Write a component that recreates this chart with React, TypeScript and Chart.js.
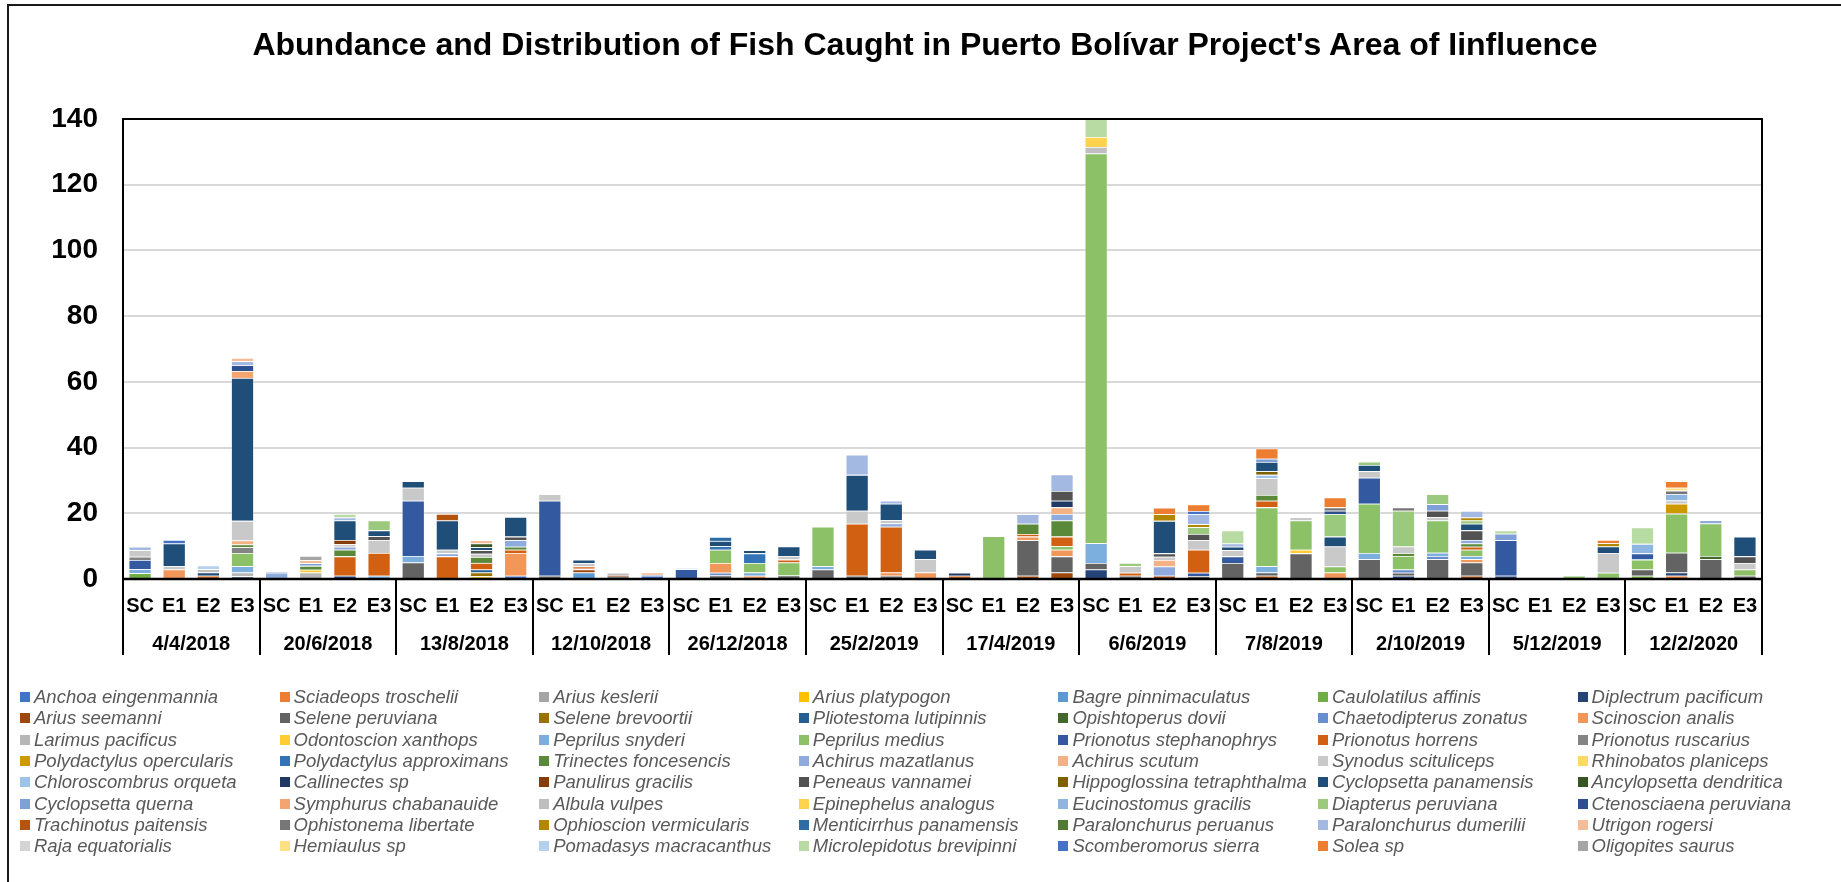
import React, { useEffect, useRef } from 'react';
import { Chart, registerables } from 'chart.js';

Chart.register(...registerables);

const FONT = "'Liberation Sans', Arial, Helvetica, sans-serif";

// ---------- data ----------
const dates = ['4/4/2018', '20/6/2018', '13/8/2018', '12/10/2018', '26/12/2018', '25/2/2019', '17/4/2019', '6/6/2019', '7/8/2019', '2/10/2019', '5/12/2019', '12/2/2020'];
const stations = ['SC', 'E1', 'E2', 'E3'];
const yMin = 0;
const yMax = 140;
const yStep = 20;

const species = [
  'Anchoa eingenmannia', 'Sciadeops troschelii', 'Arius keslerii', 'Arius platypogon', 'Bagre pinnimaculatus', 'Caulolatilus affinis', 'Diplectrum pacificum',
  'Arius seemanni', 'Selene peruviana', 'Selene brevoortii', 'Pliotestoma lutipinnis', 'Opishtoperus dovii', 'Chaetodipterus zonatus', 'Scinoscion analis',
  'Larimus pacificus', 'Odontoscion xanthops', 'Peprilus snyderi', 'Peprilus medius', 'Prionotus stephanophrys', 'Prionotus horrens', 'Prionotus ruscarius',
  'Polydactylus opercularis', 'Polydactylus approximans', 'Trinectes foncesencis', 'Achirus mazatlanus', 'Achirus scutum', 'Synodus scituliceps', 'Rhinobatos planiceps',
  'Chloroscombrus orqueta', 'Callinectes sp', 'Panulirus gracilis', 'Peneaus vannamei', 'Hippoglossina tetraphthalma', 'Cyclopsetta panamensis', 'Ancylopsetta dendritica',
  'Cyclopsetta querna', 'Symphurus chabanauide', 'Albula vulpes', 'Epinephelus analogus', 'Eucinostomus gracilis', 'Diapterus peruviana', 'Ctenosciaena peruviana',
  'Trachinotus paitensis', 'Ophistonema libertate', 'Ophioscion vermicularis', 'Menticirrhus panamensis', 'Paralonchurus peruanus', 'Paralonchurus dumerilii', 'Utrigon rogersi',
  'Raja equatorialis', 'Hemiaulus sp', 'Pomadasys macracanthus', 'Microlepidotus brevipinni', 'Scomberomorus sierra', 'Solea sp', 'Oligopites saurus',
];

const speciesColors = [
  '#4472C4', '#ED7D31', '#A5A5A5', '#FFC000', '#5B9BD5', '#70AD47', '#264478',
  '#9E480E', '#636363', '#997300', '#255E91', '#43682B', '#698ED0', '#F1975A',
  '#B7B7B7', '#FFCD33', '#7CAFDD', '#8CC168', '#335AA1', '#D26012', '#848484',
  '#CC9A00', '#3274B5', '#5A8A39', '#8FAADC', '#F4B183', '#C9C9C9', '#FFD966',
  '#9DC3E6', '#203864', '#843C0C', '#525252', '#7F6000', '#1F4E79', '#375623',
  '#7F9FD7', '#F4A46F', '#BFBFBF', '#FFD34E', '#8EB6E0', '#9BC97D', '#2E4F8E',
  '#B4540F', '#767676', '#B38600', '#2E6DA4', '#4E7A31', '#A4B9E2', '#F5BC97',
  '#D4D4D4', '#FFE083', '#B4D0EC', '#B8DAA3', '#4472C4', '#ED7D31', '#A5A5A5',
];

// values per species: 12 sampling dates x 4 stations (SC, E1, E2, E3)
const _ = [0, 0, 0, 0];
const anchoaEingenmannia = [_, _, [0, 0, 0, 1], [0, 0, 0, 1], _, _, _, _, _, _, _, _];
const sciadeopsTroschelii = [_, _, _, _, _, _, _, _, _, _, _, [0, 1, 0, 0]];
const ariusKeslerii = [_, _, _, _, _, _, _, _, _, _, _, _];
const ariusPlatypogon = [_, _, [0, 0, 0.8, 0], _, _, _, _, _, _, _, _, _];
const bagrePinnimaculatus = [_, _, _, [0, 2, 0, 0], _, _, _, _, _, _, _, _];
const caulolatilusAffinis = [[1.8, 0, 0, 0], _, _, _, _, _, _, _, _, _, _, [1, 0, 0, 0]];
const diplectrumPacificum = [[0, 0, 0, 0.8], [0, 0, 1, 0], _, _, _, _, _, [2.9, 0, 0, 0], _, [0, 1, 0, 0], [1, 0, 0, 0], [0, 1, 0, 0]];
const ariusSeemanni = [_, _, _, [0, 0.9, 0, 0], _, _, [0, 0, 1, 2], [0, 0, 1, 0], [0, 1, 0, 0], [0, 0, 0, 1], _, _];
const selenePeruviana = [_, _, [5, 0, 0, 0], [1, 0, 0.7, 0], [0, 1.1, 0, 1.1], [2.9, 1, 1, 0], [0, 0, 10.8, 4.9], [2, 1, 0, 0.9], [4.9, 1, 7.8, 0], [6, 0.9, 6, 4], _, [1.9, 6, 6, 1]];
const seleneBrevoortii = [_, _, [0, 0, 1.2, 0], _, _, _, _, _, _, _, _, _];
const pliotestomaLutipinnis = [_, _, [0, 0, 0.9, 0], _, _, _, _, _, _, _, _, _];
const opishtoperusDovii = [_, _, _, _, _, _, _, _, _, _, _, [0, 0, 1, 0]];
const chaetodipterusZonatus = [_, _, _, [0, 0, 0, 0.3], [0, 0.8, 0, 0], _, _, _, _, [0, 1, 1, 0], _, _];
const scinoscionAnalis = [[0, 2.9, 0, 0], _, [0, 0, 0, 6.9], [0, 0, 0, 0.6], [0, 3, 1, 0], [0, 0, 1, 2], [0, 0, 1.1, 2], _, [0, 0, 0, 2], [0, 0, 0, 1], _, _];
const larimusPacificus = [[0, 0, 0, 1.2], [0, 2, 0, 0], _, [0, 0.2, 0, 0], _, _, _, _, _, _, _, _];
const odontoscionXanthops = [_, [0, 0.8, 0, 0], _, _, _, _, _, _, [0, 0, 1.1, 0], _, _, _];
const peprilusSnyderi = [[1.2, 0, 0, 1.9], [0, 0, 0, 1], [2, 0, 0, 0], _, [0, 0, 1, 0], [1, 0, 0, 0], _, [6, 0, 0, 0], [0, 1.9, 0, 0], [1.9, 0, 1, 1], _, _];
const peprilusMedius = [[0, 0, 0, 4], _, _, _, [0, 4, 2.9, 3.9], [12, 0, 0, 0], [0, 13, 0, 1.1], [118.6, 0, 0, 0], [0, 17.9, 8.9, 1.8], [15, 4.1, 9.8, 1.9], [0, 0, 1, 1.9], [3, 11.9, 9.9, 1.9]];
const prionotusStephanophrys = [[2.8, 0, 0, 0], _, [16.8, 0, 0, 0], [22.8, 0, 0, 0], [3, 0, 0, 0], _, _, [0, 0, 0, 1], [2, 0, 0, 0], [7.9, 0, 0, 0], [10.8, 0, 0, 0], [1.9, 0, 0, 0]];
const prionotusHorrens = [[0, 0, 1, 0], [0, 0, 5.9, 6.9], [0, 6.9, 2, 1], [0, 0.7, 0, 0], [0, 0, 0, 0.9], [0, 15.8, 13.9, 0], [1, 0, 0.8, 2.9], [0, 0.9, 0, 7], [0, 2, 0, 0], [0, 0, 0, 0.9], _, _];
const prionotusRuscarius = [[1, 0, 0, 1.8], _, _, _, _, _, _, _, _, _, _, _];
const polydactylusOpercularis = [_, _, _, _, _, _, _, _, _, _, _, [0, 3, 0, 0]];
const polydactylusApproximans = [_, _, _, _, [0, 1.1, 2.9, 0], _, _, _, _, _, _, _];
const trinectesFoncesencis = [[0, 0, 0, 0.8], [0, 1.2, 2, 0], [0, 0, 1.8, 0.9], _, _, _, [0, 0, 3.1, 4.9], _, [0, 1.8, 0, 0], [0, 0.9, 0, 1], _, _];
const achirusMazatlanus = [_, [1.9, 0, 0.9, 0], [0, 0.9, 0, 2], _, [0.3, 0, 0, 0], [0, 0, 1, 0], [0, 0, 0, 2], [0, 0, 2.8, 0], _, [0, 0, 0, 1.1], _, [0, 0, 1, 0]];
const achirusScutum = [[0, 0, 0, 1.2], _, _, _, _, _, [0, 0, 0, 2], [0, 0, 2, 0], _, _, _, _];
const synodusScituliceps = [[2, 1, 0, 6], [0, 0, 0.8, 4], [4, 1.1, 1, 0], [2, 1, 0, 0], [0, 0, 0, 1.1], [0, 4, 1, 4], _, [0, 2, 1, 2.9], [1.9, 5.1, 1, 6.1], [2, 2, 1, 0], [0, 0, 0, 6], [0, 1, 0, 2]];
const rhinobatosPlaniceps = [_, _, _, _, _, _, _, _, _, _, _, _];
const chloroscombrusOrqueta = [_, _, _, _, _, _, _, _, [0, 1, 0, 0], _, _, _];
const callinectesSp = [_, _, _, _, _, _, [0.9, 0, 0, 2], _, _, _, _, _];
const panulirusGracilis = [_, [0, 0, 1.3, 0], _, [0, 0, 0.5, 0], _, _, _, _, _, _, _, _];
const peneausVannamei = [_, [0, 0, 0, 1.1], [0, 0, 1.1, 1.1], _, _, _, [0, 0, 0, 3], [0, 0, 1, 1.9], _, [0, 0, 2, 2.9], _, [0, 0, 0, 2]];
const hippoglossinaTetraphthalma = [_, _, _, _, _, _, _, _, [0, 1.1, 0, 0], _, _, _];
const cyclopsettaPanamensis = [[0, 6.9, 1, 43.5], [0, 0, 5.9, 1.8], [2, 8.9, 0.9, 6], [0, 1.1, 0, 0], [0, 1.6, 1, 2.9], [0, 10.9, 5, 2.9], _, [0, 0, 9.9, 0], [1, 2.8, 0, 3], [1.9, 0, 0, 2], [0, 0, 0, 2], [0, 0, 0, 6]];
const ancylopsettaDendritica = [_, _, [0, 0, 1.1, 0], _, _, _, _, _, _, _, _, _];
const cyclopsettaQuerna = [_, [0, 0.8, 0, 0], _, _, _, _, _, _, [0, 1, 0, 0], [0, 0, 2, 0], [2, 0, 0, 0], _];
const symphurusChabanauide = [[0, 0, 0, 2.1], _, _, _, _, _, _, _, _, _, _, _];
const albulaVulpes = [[0, 0, 1, 0], _, _, [0, 0, 0.7, 0], _, _, _, [2, 0, 0, 0], _, _, _, _];
const epinephelusAnalogus = [_, _, _, _, _, _, _, [3, 0, 0, 0], _, _, _, _];
const eucinostomusGracilis = [_, _, _, _, _, _, _, _, _, _, _, [2.9, 2, 0, 0]];
const diapterusPeruviana = [_, [0, 0, 0, 3], _, _, _, _, _, [0, 1, 0, 2.1], [0, 0, 0, 6.9], [1, 10.9, 3, 1], _, _];
const ctenosciaenaPeruviana = [[0, 0, 0, 1.8], _, _, _, _, _, _, _, [0, 0, 0, 1], _, _, _];
const trachinotusPaitensis = [_, _, [0, 2, 0, 0], _, _, _, _, _, _, _, _, _];
const ophistonemaLibertate = [_, _, _, _, _, _, _, _, [0, 0, 0, 1], [0, 1, 0, 0], _, [0, 1, 0, 0]];
const ophioscionVermicularis = [_, _, _, _, _, _, _, [0, 0, 2, 0.9], _, [0, 0, 0, 0.9], [0, 0, 0, 1], _];
const menticirrhusPanamensis = [_, _, _, _, [0, 1.2, 0, 0], _, _, _, _, _, _, _];
const paralonchurusPeruanus = [_, _, _, _, _, _, _, _, _, _, _, _];
const paralonchurusDumerilii = [[1, 0, 0, 1.2], [0.4, 0, 0.9, 0], _, _, _, [0, 6.1, 0.9, 0], [0, 0, 2.9, 5], [0, 0, 0, 3], [1, 0, 0, 0], [0, 0, 0, 2], _, _];
const utrigonRogersi = [[0, 0, 0, 1], [0, 0.9, 0, 0], [0, 0, 1, 0], _, _, _, _, _, _, _, _, _];
const rajaEquatorialis = [_, _, _, _, _, _, _, _, _, _, _, _];
const hemiaulusSp = [_, _, _, _, _, _, _, _, _, _, _, [0, 0.9, 0, 0]];
const pomadasysMacracanthus = [[0, 0, 1.1, 0], _, _, _, _, _, _, _, _, _, _, _];
const microlepidotusBrevipinni = [_, [0, 0, 1.1, 0], _, _, _, _, _, [5.5, 0, 0, 0], [4, 0, 0, 0], _, [1, 0, 0, 0], [5, 0, 0, 0]];
const scomberomorusSierra = [[0, 1.1, 0, 0], _, _, _, _, _, _, [0, 0, 0, 1], _, _, _, _];
const soleaSp = [_, _, _, _, _, _, _, [0, 0, 2, 2], [0, 3.1, 0, 3], _, [0, 0, 0, 1], [0, 2, 0, 0]];
const oligopitesSaurus = [_, [0, 1.3, 0, 0], _, _, _, _, _, _, _, _, _, _];

const speciesValues = [
  anchoaEingenmannia, sciadeopsTroschelii, ariusKeslerii, ariusPlatypogon, bagrePinnimaculatus, caulolatilusAffinis, diplectrumPacificum,
  ariusSeemanni, selenePeruviana, seleneBrevoortii, pliotestomaLutipinnis, opishtoperusDovii, chaetodipterusZonatus, scinoscionAnalis,
  larimusPacificus, odontoscionXanthops, peprilusSnyderi, peprilusMedius, prionotusStephanophrys, prionotusHorrens, prionotusRuscarius,
  polydactylusOpercularis, polydactylusApproximans, trinectesFoncesencis, achirusMazatlanus, achirusScutum, synodusScituliceps, rhinobatosPlaniceps,
  chloroscombrusOrqueta, callinectesSp, panulirusGracilis, peneausVannamei, hippoglossinaTetraphthalma, cyclopsettaPanamensis, ancylopsettaDendritica,
  cyclopsettaQuerna, symphurusChabanauide, albulaVulpes, epinephelusAnalogus, eucinostomusGracilis, diapterusPeruviana, ctenosciaenaPeruviana,
  trachinotusPaitensis, ophistonemaLibertate, ophioscionVermicularis, menticirrhusPanamensis, paralonchurusPeruanus, paralonchurusDumerilii, utrigonRogersi,
  rajaEquatorialis, hemiaulusSp, pomadasysMacracanthus, microlepidotusBrevipinni, scomberomorusSierra, soleaSp, oligopitesSaurus,
];

const TITLE = "Abundance and Distribution of Fish Caught in Puerto Bolívar Project's Area of Iinfluence";

// ---------- chart ----------
const framePlugin = {
  id: 'frameAndSeparators',
  afterDraw(chart: any) {
    const { ctx, chartArea: a } = chart;
    const xs = chart.scales.x;
    ctx.save();
    ctx.strokeStyle = '#000';
    ctx.lineWidth = 2;
    ctx.beginPath();
    ctx.moveTo(a.left, a.bottom);
    ctx.lineTo(a.left, a.top);
    ctx.lineTo(a.right, a.top);
    ctx.lineTo(a.right, a.bottom);
    ctx.stroke();
    ctx.lineWidth = 2.5;
    ctx.beginPath();
    ctx.moveTo(a.left, a.bottom);
    ctx.lineTo(a.right, a.bottom);
    ctx.stroke();
    const groups = dates.length;
    const x2 = chart.scales.x2;
    const bottom = x2.top + 34;
    ctx.lineWidth = 2;
    for (let k = 0; k <= groups; k++) {
      const px = Math.round(xs.left + (xs.width * k) / groups);
      ctx.beginPath();
      ctx.moveTo(px, a.bottom);
      ctx.lineTo(px, bottom);
      ctx.stroke();
    }
    ctx.restore();
  },
};

export default function App() {
  const canvasRef = useRef<HTMLCanvasElement | null>(null);

  useEffect(() => {
    const canvas = canvasRef.current;
    if (!canvas) return;
    const categories = dates.flatMap(() => stations);
    const chart = new Chart(canvas, {
      type: 'bar',
      data: {
        labels: categories,
        datasets: species.map((name, i) => ({
          label: name,
          data: speciesValues[i].flat(),
          backgroundColor: speciesColors[i],
          borderColor: 'rgba(255,255,255,0.45)',
          borderWidth: 0.8,
          barPercentage: 0.67,
          categoryPercentage: 1,
          xAxisID: 'x',
          yAxisID: 'y',
        })),
      },
      options: {
        responsive: false,
        animation: false,
        devicePixelRatio: 1,
        layout: { padding: { left: 8, right: 79, top: 119, bottom: 0 } },
        plugins: {
          legend: { display: false },
          title: { display: false },
          tooltip: { enabled: false },
        },
        scales: {
          x: {
            type: 'category',
            stacked: true,
            offset: true,
            position: 'bottom',
            weight: 0,
            grid: { display: false },
            border: { display: false },
            ticks: {
              font: { family: FONT, size: 20, weight: 'bold' },
              color: '#000',
              padding: 7,
              maxRotation: 0,
              autoSkip: false,
            },
            afterFit: (s: any) => { s.height = 42; },
          },
          x2: {
            type: 'category',
            labels: dates,
            offset: true,
            position: 'bottom',
            weight: 1,
            grid: { display: false },
            border: { display: false },
            ticks: {
              font: { family: FONT, size: 20, weight: 'bold' },
              color: '#000',
              padding: 3,
              maxRotation: 0,
              autoSkip: false,
            },
            afterFit: (s: any) => { s.height = 261; },
          },
          y: {
            stacked: true,
            min: yMin,
            max: yMax,
            ticks: {
              stepSize: yStep,
              font: { family: FONT, size: 28, weight: 'bold' },
              color: '#000',
              padding: 25,
            },
            grid: {
              color: (c: any) => (c.tick && (c.tick.value === yMin || c.tick.value === yMax) ? 'rgba(0,0,0,0)' : '#D9D9D9'),
              lineWidth: 2,
              drawTicks: false,
            },
            border: { display: false },
            afterFit: (s: any) => { s.width = 115; },
          },
        },
      },
      plugins: [framePlugin],
    } as any);
    return () => chart.destroy();
  }, []);

  const colSpacing = 259.6;
  const rowHeight = 21.3;

  return (
    <div style={{ position: 'fixed', left: 0, top: 0, width: 1841, height: 882, overflow: 'hidden', background: '#fff' }}>
      <div style={{ position: 'absolute', left: 7, top: 4, width: 2000, height: 1000, borderLeft: '2px solid #1a1a1a', borderTop: '2px solid #1a1a1a', boxSizing: 'border-box' }} />
      <canvas ref={canvasRef} width={1841} height={882} style={{ position: 'absolute', left: 0, top: 0, width: 1841, height: 882 }} />
      <div style={{ position: 'absolute', left: 0, width: 1850, top: 26, textAlign: 'center', fontFamily: FONT, fontWeight: 'bold', fontSize: 32, lineHeight: '36px', color: '#000', whiteSpace: 'nowrap' }}>
        {TITLE}
      </div>
      {species.map((name, i) => {
        const col = i % 7;
        const row = Math.floor(i / 7);
        const left = 20 + col * colSpacing;
        const top = 686 + row * rowHeight;
        return (
          <div key={name} style={{ position: 'absolute', left, top, height: rowHeight, whiteSpace: 'nowrap', fontFamily: FONT, fontStyle: 'italic', fontSize: 18.5, lineHeight: `${rowHeight}px`, color: '#595959' }}>
            <span style={{ display: 'inline-block', width: 10, height: 10, background: speciesColors[i], marginRight: 4, verticalAlign: 'middle', position: 'relative', top: -1 }} />
            {name}
          </div>
        );
      })}
    </div>
  );
}
